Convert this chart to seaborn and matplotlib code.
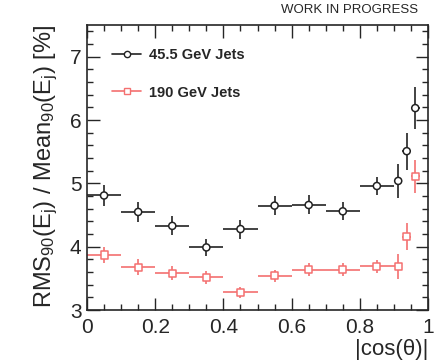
import matplotlib
matplotlib.use("Agg")
import matplotlib.pyplot as plt
import seaborn as sns
import numpy as np
import pandas as pd
from matplotlib.ticker import MultipleLocator
from matplotlib.lines import Line2D

# Data
bin_centers = [0.05, 0.15, 0.25, 0.35, 0.45, 0.55, 0.65, 0.75, 0.85, 0.9125, 0.9375, 0.9625]
bin_halfwidth = [0.05, 0.05, 0.05, 0.05, 0.05, 0.05, 0.05, 0.05, 0.05, 0.0125, 0.0125, 0.0125]
res_45 = [4.81, 4.55, 4.33, 3.99, 4.28, 4.65, 4.66, 4.56, 4.96, 5.04, 5.51, 6.19]
err_45 = [0.16, 0.16, 0.15, 0.13, 0.15, 0.15, 0.15, 0.14, 0.14, 0.27, 0.29, 0.33]
res_190 = [3.87, 3.68, 3.58, 3.52, 3.28, 3.54, 3.64, 3.64, 3.69, 3.69, 4.16, 5.11]
err_190 = [0.13, 0.12, 0.11, 0.10, 0.09, 0.10, 0.10, 0.10, 0.10, 0.20, 0.21, 0.26]
labels = ["45.5 GeV Jets", "190 GeV Jets"]
xtick_labels = ['0', '0.2', '0.4', '0.6', '0.8', '1']

sns.set_style("ticks")
plt.rcParams['font.family'] = ['Liberation Sans', 'DejaVu Sans']
plt.rcParams['mathtext.fontset'] = 'custom'
plt.rcParams['mathtext.rm'] = 'Liberation Sans'
plt.rcParams['mathtext.it'] = 'Liberation Sans'
plt.rcParams['mathtext.default'] = 'regular'

fig = plt.figure(figsize=(4.35, 3.64), dpi=100)
ax = fig.add_axes([0.2, 0.148, 0.784, 0.783])

black = '#222222'
red = '#f47070'

df = pd.DataFrame({
    'x': bin_centers * 2,
    'y': res_45 + res_190,
    'series': [labels[0]] * len(bin_centers) + [labels[1]] * len(bin_centers),
})

for yv, ev, col in [(res_45, err_45, black), (res_190, err_190, red)]:
    ax.errorbar(bin_centers, yv, xerr=bin_halfwidth, yerr=ev, fmt='none',
                ecolor=col, elinewidth=1.2, capsize=0, zorder=2)

sns.scatterplot(data=df, x='x', y='y', hue='series', style='series',
                palette={labels[0]: black, labels[1]: red},
                markers={labels[0]: 'o', labels[1]: 's'},
                s=26, linewidth=1.1, ax=ax, legend=False, zorder=3)
sc = ax.collections[-1]
ec = sc.get_facecolors()
sc.set_edgecolors(ec)
sc.set_facecolors('white')

ax.set_xlim(0, 1)
ax.set_ylim(3, 7.5)
ax.xaxis.set_major_locator(MultipleLocator(0.2))
ax.xaxis.set_minor_locator(MultipleLocator(0.05))
ax.yaxis.set_major_locator(MultipleLocator(1))
ax.yaxis.set_minor_locator(MultipleLocator(0.2))
ax.tick_params(which='both', direction='in', top=True, right=True, labelsize=15, width=1)
ax.tick_params(which='major', length=9)
ax.tick_params(which='minor', length=4.5)
ax.tick_params(axis='x', which='major', pad=6)
ax.tick_params(axis='y', which='major', pad=4)
ax.set_xticks([0, 0.2, 0.4, 0.6, 0.8, 1.0])
ax.set_xticklabels(xtick_labels)
for s in ax.spines.values():
    s.set_linewidth(1.2)

ax.set_xlabel('|cos(θ)|', fontsize=16, loc='right', labelpad=1)
ax.set_ylabel('RMS$_{90}$(E$_{j}$) / Mean$_{90}$(E$_{j}$) [%]', fontsize=17, loc='top', labelpad=7)

handles = [
    Line2D([], [], color=black, marker='o', markerfacecolor='white', markeredgecolor=black, markersize=4.5, lw=1.2),
    Line2D([], [], color=red, marker='s', markerfacecolor='white', markeredgecolor=red, markersize=4.5, lw=1.2),
]
leg = ax.legend(handles, labels, loc='upper left', bbox_to_anchor=(0.035, 0.965), frameon=False,
                prop={'weight': 'bold', 'size': 10.5}, labelspacing=1.6, handlelength=2.0,
                handletextpad=0.5)

fig.text(0.962, 0.955, 'WORK IN PROGRESS', fontsize=9.5, ha='right', va='bottom')

fig.savefig('out.png', dpi=100)
